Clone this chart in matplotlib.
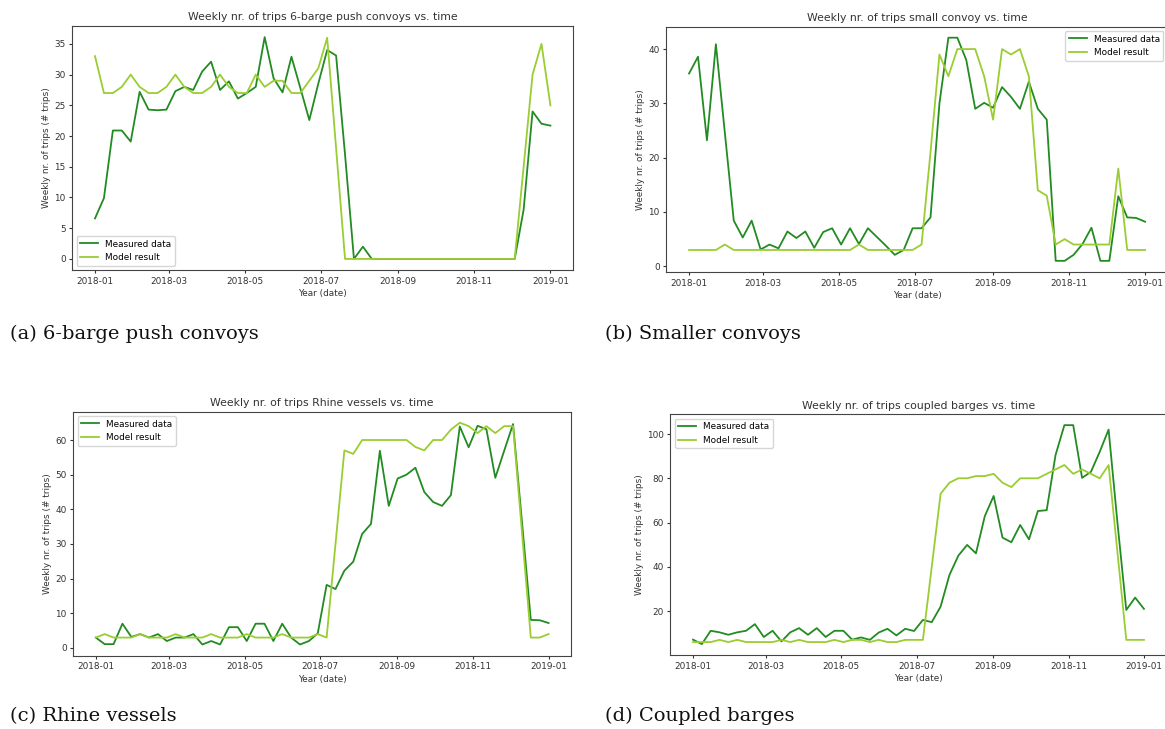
import matplotlib
matplotlib.use("Agg")
import matplotlib.pyplot as plt
import matplotlib.dates as mdates
from matplotlib.ticker import MultipleLocator
import pandas as pd

# Weekly observation dates across 2018
dates = pd.date_range("2018-01-01", "2019-01-01", periods=52)

# (a) 6-barge push convoys
push_measured = [6.6, 9.9, 20.9, 20.9, 19.1, 27.2, 24.3, 24.2, 24.3, 27.3, 28.0, 27.5, 30.5,
                 32.1, 27.5, 28.9, 26.1, 27.0, 28.0, 36.1, 29.4, 27.1, 32.9, 27.8, 22.6, 28.5,
                 34.0, 33.1, 17.0, 0, 2, 0, 0, 0, 0, 0, 0, 0, 0, 0, 0, 0, 0, 0, 0, 0, 0, 0,
                 8, 24, 22, 21.7]
push_model = [33, 27, 27, 28, 30, 28, 27, 27, 28, 30, 28, 27, 27, 28, 30, 28, 27, 27, 30, 28,
              29, 29, 27, 27, 29, 31, 36, 18, 0, 0, 0, 0, 0, 0, 0, 0, 0, 0, 0, 0, 0, 0, 0, 0,
              0, 0, 0, 0, 15, 30, 35, 25]

# (b) Smaller convoys
small_measured = [35.5, 38.6, 23.2, 40.9, 24.6, 8.4, 5.3, 8.4, 3.1, 4.0, 3.3, 6.4, 5.2, 6.4,
                  3.4, 6.3, 7.0, 4.0, 7.0, 4.1, 7.0, 5.4, 3.8, 2.1, 3.0, 7.0, 7.0, 9.0, 30.0,
                  42.1, 42.1, 38.0, 29.0, 30.1, 29.2, 33.0, 31.2, 29.0, 34.0, 29.0, 27.0, 1.0,
                  1.0, 2.1, 4.1, 7.1, 1.0, 1.0, 12.9, 9.0, 8.9, 8.2]
small_model = [3, 3, 3, 3, 4, 3, 3, 3, 3, 3, 3, 3, 3, 3, 3, 3, 3, 3, 3, 4, 3, 3, 3, 3, 3, 3,
               4, 21, 39, 35, 40, 40, 40, 35, 27, 40, 39, 40, 35, 14, 13, 4, 5, 4, 4, 4, 4, 4,
               18, 3, 3, 3]

# (c) Rhine vessels
rhine_measured = [3, 1.1, 1.1, 7, 3.2, 4, 3, 4, 2, 3, 3, 4, 1, 2, 1, 6, 6, 2, 7, 7, 2, 7, 3,
                  1, 2, 4.2, 18.2, 17, 22.3, 24.9, 32.9, 35.8, 56.9, 41, 48.9, 50, 52, 45,
                  42.1, 41, 44.1, 63.9, 57.9, 64.1, 63.1, 49.1, 56.9, 64.6, 36.5, 8.1, 8, 7.2]
rhine_model = [3, 4, 3, 3, 3, 4, 3, 3, 3, 4, 3, 3, 3, 4, 3, 3, 3, 4, 3, 3, 3, 4, 3, 3, 3, 4,
               3, 30, 57, 56, 60, 60, 60, 60, 60, 60, 58, 57, 60, 60, 63, 65, 64, 62, 64, 62,
               64, 64, 33.5, 3, 3, 4]

# (d) Coupled barges
coupled_measured = [7.1, 5.1, 11.1, 10.4, 9.3, 10.4, 11.1, 14.1, 8.3, 11.1, 6.3, 10.4, 12.3,
                    9.3, 12.3, 8.3, 11.1, 11.1, 7.1, 8.1, 7.0, 10.3, 12.0, 9.0, 12.0, 11.0,
                    16.0, 15.0, 22.0, 36.3, 45.0, 49.9, 46.1, 62.9, 72.0, 53.2, 51.1, 58.9,
                    52.4, 65.2, 65.6, 90.5, 104, 104, 80.2, 82.9, 92, 102, 60, 20.5, 26.1, 21]
coupled_model = [6, 6, 6, 7, 6, 7, 6, 6, 6, 6, 7, 6, 7, 6, 6, 6, 7, 6, 7, 7, 6, 7, 6, 6, 7,
                 7, 7, 40, 73, 78, 80, 80, 81, 81, 82, 78, 76, 80, 80, 80, 82, 84, 86, 82, 84,
                 82, 80, 86, 46.6, 7, 7, 7]

panels = [
    dict(title="Weekly nr. of trips 6-barge push convoys vs. time", measured=push_measured,
         model=push_model, caption="(a) 6-barge push convoys", legend="lower left",
         step=5, rect=[0.0620, 0.6296, 0.4300, 0.3347], cap=(0.009, 0.530)),
    dict(title="Weekly nr. of trips small convoy vs. time", measured=small_measured,
         model=small_model, caption="(b) Smaller convoys", legend="upper right",
         step=10, rect=[0.5719, 0.6269, 0.4306, 0.3367], cap=(0.519, 0.530)),
    dict(title="Weekly nr. of trips Rhine vessels vs. time", measured=rhine_measured,
         model=rhine_model, caption="(c) Rhine vessels", legend="upper left",
         step=10, rect=[0.0628, 0.1007, 0.4275, 0.3347], cap=(0.009, 0.006)),
    dict(title="Weekly nr. of trips coupled barges vs. time", measured=coupled_measured,
         model=coupled_model, caption="(d) Coupled barges", legend="upper left",
         step=20, rect=[0.5755, 0.1015, 0.4258, 0.3303], cap=(0.519, 0.006)),
]

small_font = 6.4

fig = plt.figure(figsize=(11.65, 7.29), dpi=100)

for p in panels:
    ax = fig.add_axes(p["rect"])
    ax.plot(dates, p["measured"], color="forestgreen", lw=1.3, label="Measured data")
    ax.plot(dates, p["model"], color="yellowgreen", lw=1.3, label="Model result")
    ax.set_title(p["title"], fontsize=7.8, color="#333333", pad=4)
    ax.set_xlabel("Year (date)", fontsize=small_font, color="#333333", labelpad=2.5)
    ax.set_ylabel("Weekly nr. of trips (# trips)", fontsize=small_font, color="#333333",
                  labelpad=2.5)
    ax.xaxis.set_major_locator(mdates.MonthLocator(bymonth=[1, 3, 5, 7, 9, 11]))
    ax.xaxis.set_major_formatter(mdates.DateFormatter("%Y-%m"))
    ax.yaxis.set_major_locator(MultipleLocator(p["step"]))
    ax.tick_params(labelsize=small_font, colors="#333333", length=2.5, pad=2.2)
    for s in ax.spines.values():
        s.set_color("#444444")
    ax.legend(loc=p["legend"], fontsize=small_font, framealpha=0.8)
    fig.text(p["cap"][0], p["cap"][1], p["caption"], family="DejaVu Serif",
             fontsize=14, color="#111111", ha="left", va="bottom")

fig.savefig("out.png", dpi=100)
